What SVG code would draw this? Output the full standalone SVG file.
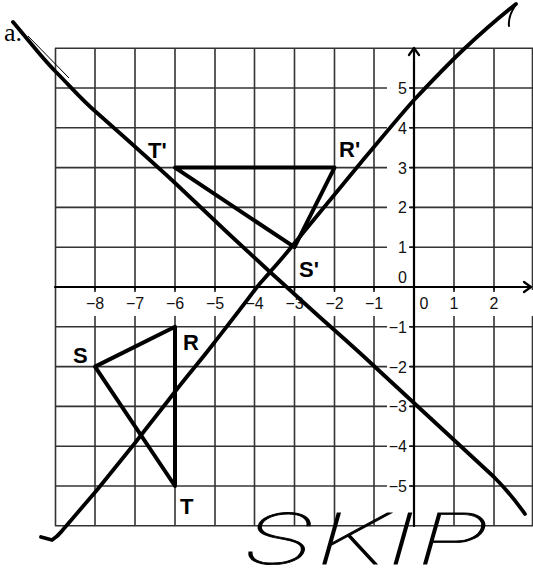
<svg xmlns="http://www.w3.org/2000/svg" width="533" height="581" viewBox="0 0 533 581">
<style>
.grid line{stroke:#333;stroke-width:1.6}
.tick{stroke:#111;stroke-width:1.5}
.axis{stroke:#000;stroke-width:2.2;fill:none;stroke-linecap:round;stroke-linejoin:round}
.num{font-family:"Liberation Sans",Arial,sans-serif;font-size:16px;fill:#111}
.xl{text-anchor:middle}
.yl{text-anchor:end}
.tri{fill:none;stroke:#000;stroke-width:4;stroke-linejoin:round;stroke-linecap:round}
.vl{font-family:"Liberation Sans",Arial,sans-serif;font-size:22px;font-weight:bold;fill:#000}
.hand{fill:none;stroke:#000;stroke-width:3.8;stroke-linejoin:round;stroke-linecap:round}
</style>
<rect width="533" height="581" fill="#fff"/>
<g id="grid" class="grid">
<line x1="55.5" y1="48" x2="55.5" y2="526"/>
<line x1="95" y1="48" x2="95" y2="526"/>
<line x1="135" y1="48" x2="135" y2="526"/>
<line x1="175" y1="48" x2="175" y2="526"/>
<line x1="215" y1="48" x2="215" y2="526"/>
<line x1="254.5" y1="48" x2="254.5" y2="526"/>
<line x1="294.5" y1="48" x2="294.5" y2="526"/>
<line x1="334.5" y1="48" x2="334.5" y2="526"/>
<line x1="374" y1="48" x2="374" y2="526"/>
<line x1="454" y1="48" x2="454" y2="526"/>
<line x1="494" y1="48" x2="494" y2="526"/>
<line x1="532.5" y1="48" x2="532.5" y2="526"/>
<line x1="55" y1="48.2" x2="533" y2="48.2"/>
<line x1="55" y1="88" x2="533" y2="88"/>
<line x1="55" y1="127.8" x2="533" y2="127.8"/>
<line x1="55" y1="167.6" x2="533" y2="167.6"/>
<line x1="55" y1="207.4" x2="533" y2="207.4"/>
<line x1="55" y1="247.2" x2="533" y2="247.2"/>
<line x1="55" y1="326.8" x2="533" y2="326.8"/>
<line x1="55" y1="366.6" x2="533" y2="366.6"/>
<line x1="55" y1="406.4" x2="533" y2="406.4"/>
<line x1="55" y1="446.2" x2="533" y2="446.2"/>
<line x1="55" y1="486" x2="533" y2="486"/>
<line x1="55" y1="525.8" x2="533" y2="525.8"/>
</g>
<g id="label-bands" fill="#fff">
<rect x="57" y="290" width="476" height="26"/>
<rect x="387" y="50" width="23" height="474"/>
</g>
<g id="ticks" class="tick">
<line x1="95" y1="287" x2="95" y2="292"/>
<line x1="135" y1="287" x2="135" y2="292"/>
<line x1="175" y1="287" x2="175" y2="292"/>
<line x1="215" y1="287" x2="215" y2="292"/>
<line x1="254.5" y1="287" x2="254.5" y2="292"/>
<line x1="294.5" y1="287" x2="294.5" y2="292"/>
<line x1="334.5" y1="287" x2="334.5" y2="292"/>
<line x1="374" y1="287" x2="374" y2="292"/>
<line x1="454" y1="287" x2="454" y2="292"/>
<line x1="494" y1="287" x2="494" y2="292"/>
<line x1="409" y1="88" x2="414" y2="88"/>
<line x1="409" y1="127.8" x2="414" y2="127.8"/>
<line x1="409" y1="167.6" x2="414" y2="167.6"/>
<line x1="409" y1="207.4" x2="414" y2="207.4"/>
<line x1="409" y1="247.2" x2="414" y2="247.2"/>
<line x1="409" y1="326.8" x2="414" y2="326.8"/>
<line x1="409" y1="366.6" x2="414" y2="366.6"/>
<line x1="409" y1="406.4" x2="414" y2="406.4"/>
<line x1="409" y1="446.2" x2="414" y2="446.2"/>
<line x1="409" y1="486" x2="414" y2="486"/>
</g>
<g id="axes" class="axis">
<path d="M55,287 H531 M524,282 L531,287 L524,292"/>
<path d="M414,526 V48 M409,55 L414,48 L419,55"/>
</g>
<g id="x-labels" class="num xl">
<text x="95" y="309">−8</text>
<text x="135" y="309">−7</text>
<text x="175" y="309">−6</text>
<text x="215" y="309">−5</text>
<text x="254.5" y="309">−4</text>
<text x="294.5" y="309">−3</text>
<text x="334.5" y="309">−2</text>
<text x="374" y="309">−1</text>
<text x="424" y="309">0</text>
<text x="454" y="309">1</text>
<text x="494" y="309">2</text>
</g>
<g id="y-labels" class="num yl">
<text x="407" y="94">5</text>
<text x="407" y="133.8">4</text>
<text x="407" y="173.6">3</text>
<text x="407" y="213.4">2</text>
<text x="407" y="253.2">1</text>
<text x="407" y="283">0</text>
<text x="407" y="332.8">−1</text>
<text x="407" y="372.6">−2</text>
<text x="407" y="412.4">−3</text>
<text x="407" y="452.2">−4</text>
<text x="407" y="492">−5</text>
</g>
<g id="triangle-prime">
<polygon class="tri" points="175,167.6 334.5,167.6 294.5,247.2"/>
<text class="vl" x="148" y="158">T'</text>
<text class="vl" x="339" y="157">R'</text>
<text class="vl" x="299" y="277">S'</text>
</g>
<g id="triangle">
<polygon class="tri" points="95,366.6 175,326.8 175,486"/>
<text class="vl" x="73" y="363">S</text>
<text class="vl" x="183" y="350">R</text>
<text class="vl" x="180" y="514">T</text>
</g>
<g id="connectors">
<path class="hand" d="M13,22 C30,42 42,58 55,71 C70,86 82,100 96,112 C122,135 148,158 174,182 C193,200 212,218 230,235 C244,248 257,260 270,272 C288,288 305,304 323,320 C340,335 357,350 374,366 C387,378 401,391 414,403 C441,428 467,452 494,477 C505,488 515,500 525,514"/>
<path d="M28,36 L69,78" fill="none" stroke="#000" stroke-width="1"/>
<path class="hand" d="M41,537 L52,540 C55,538 58,536 61,532 C73,518 85,504 97,490 C110,474 122,459 135,443 C148,426 161,410 174,393 C187,376 201,360 214,343 C228,325 243,306 257,287 C261,282 266,277 270,272 C278,263 286,254 293,245 C316,217 340,188 363,160 C380,140 397,119 414,100 C430,83 446,66 463,50 C480,34 497,19 516,4"/>
<path d="M515,6 C511,12 508,18 509,26" fill="none" stroke="#000" stroke-width="2" stroke-linecap="round"/>
</g>
<g id="title">
<text x="4" y="41" font-family="'Liberation Serif','Times New Roman',serif" font-size="26" fill="#000">a.</text>
</g>
<g id="handwriting">
<text x="242" y="564" font-family="Inter,'Open Sans',sans-serif" font-weight="100" font-style="italic" font-size="70" textLength="246" lengthAdjust="spacingAndGlyphs" fill="#000" stroke="#000" stroke-width="0.9">SKIP</text>
</g>
</svg>
